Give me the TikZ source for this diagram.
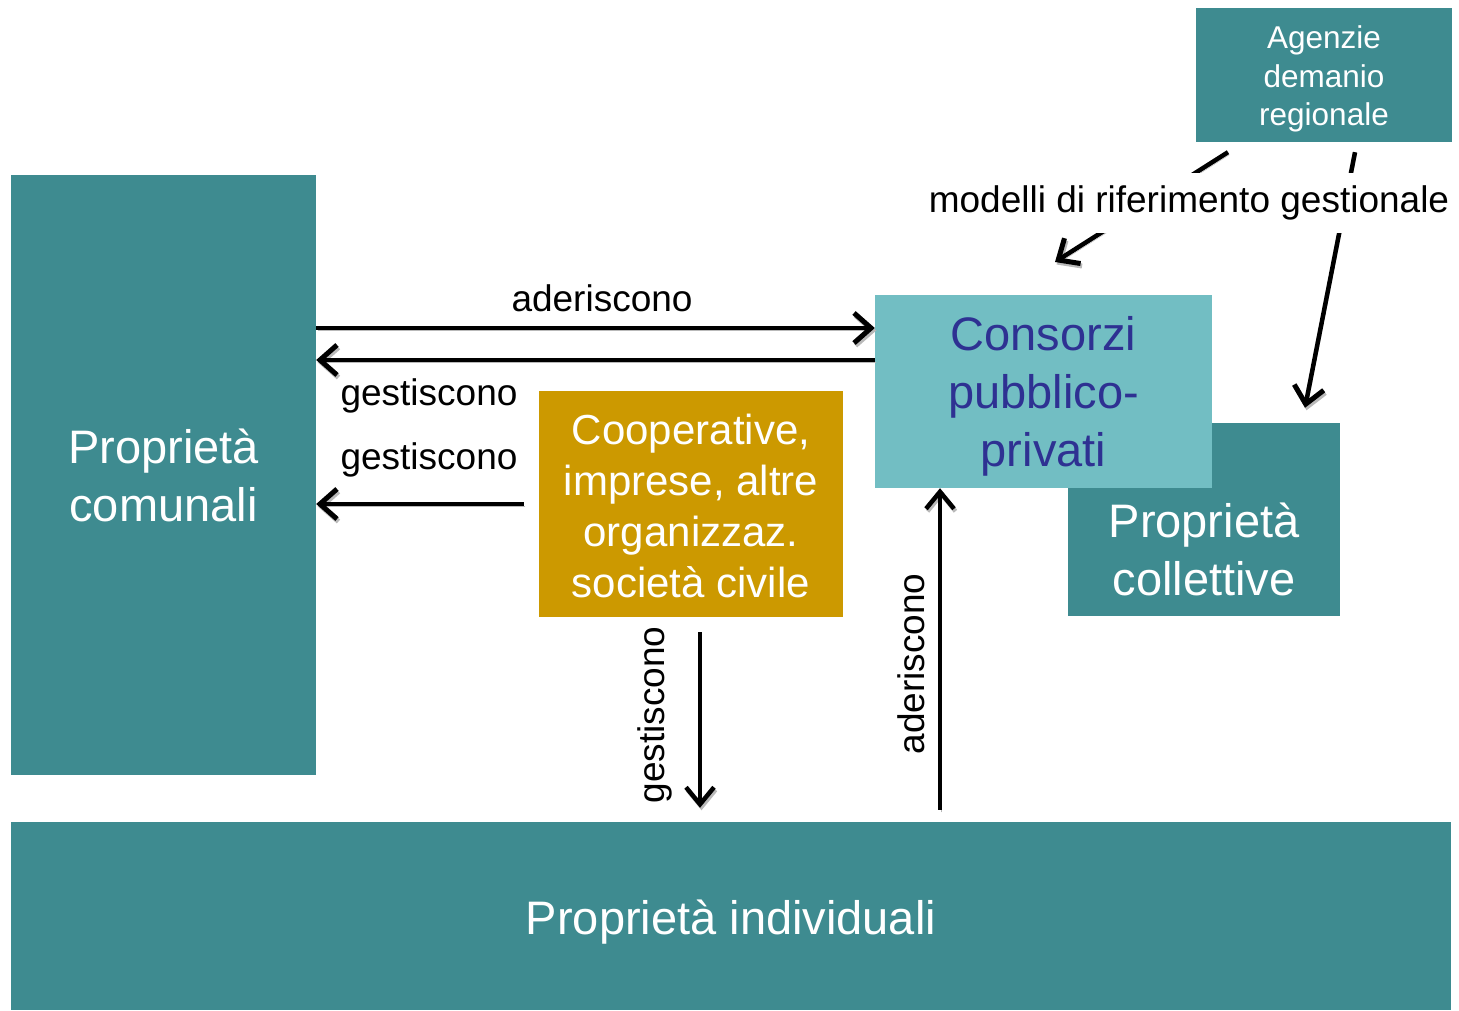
\documentclass[tikz,border=0pt]{standalone}
\usepackage{fontspec}
\setmainfont{Liberation Sans}
\usetikzlibrary{arrows.meta,calc}
\definecolor{teal1}{RGB}{62,139,144}
\definecolor{teal2}{RGB}{114,190,195}
\definecolor{gold1}{RGB}{204,153,0}
\definecolor{navy1}{RGB}{46,49,146}
\tikzset{
  box/.style={rectangle, draw=none, fill=teal1, inner sep=0pt},
  txt/.style={text=white, align=center, inner sep=0pt},
  big/.style={font=\fontsize{47}{58}\selectfont},
  lbl/.style={font=\fontsize{37}{44}\selectfont, text=black, inner sep=0pt},
  shad/.style={preaction={draw=gray!55, transform canvas={xshift=1.5pt,yshift=-2.5pt}}},
  arr/.style={shad, line width=4.5pt, -{Straight Barb[length=17pt,width=30pt,line width=5pt]}},
  varr/.style={shad, line width=4pt, -{Straight Barb[length=17pt,width=28pt,line width=4.5pt]}},
}
\begin{document}
\begin{tikzpicture}[x=1pt,y=-1pt]
\useasboundingbox (0,0) rectangle (1459,1011);
% boxes
\node[box, minimum width=256pt, minimum height=134pt] (agz) at (1324,75) {};
\node[txt, font=\fontsize{31.5}{38.5}\selectfont] (agzt) at ([yshift=-4pt]agz.center) {Agenzie\\demanio\\regionale};
\node[box, minimum width=305pt, minimum height=600pt] (com) at (163.5,475) {};
\node[txt, big] (comt) at (com.center) {Proprietà\\comunali};
\node[box, minimum width=272pt, minimum height=193pt] (coll) at (1204,519.5) {};
\node[txt, big] (collt) at (1204,549) {Proprietà\\collettive};
\node[box, fill=teal2, minimum width=337pt, minimum height=193pt] (cons) at (1043.5,391.5) {};
\node[txt, big, text=navy1] (const) at ([yshift=-5pt]cons.center) {Consorzi\\pubblico-\\privati};
\node[box, fill=gold1, minimum width=304pt, minimum height=226pt] (coop) at (691,504) {};
\node[txt, font=\fontsize{42}{51}\selectfont] (coopt) at ([yshift=-2pt]coop.center) {Cooperative,\\imprese, altre\\organizzaz.\\società civile};
\node[box, minimum width=1440pt, minimum height=188pt] (ind) at (731,916) {};
\node[txt, big] (indt) at ([yshift=-6pt]ind.center) {Proprietà individuali};
% helper coordinates
\coordinate (r1) at (0,328);
\coordinate (r2) at (0,360);
\coordinate (v1) at (700,0);
\coordinate (v2) at (940,0);
\coordinate (e1) at (1055,262);
% horizontal arrows
\draw[arr] (com.east |- r1) -- (cons.west |- r1);
\draw[arr] (cons.west |- r2) -- (com.east |- r2);
\draw[arr] ([xshift=-15pt]coop.west) -- (com.east |- coop.west);
% vertical arrows
\draw[varr, shorten <=15pt, shorten >=14pt] (v1 |- coop.south) -- (v1 |- ind.north);
\draw[varr, shorten <=12pt] (v2 |- ind.north) -- (v2 |- cons.south);
% arrows from Agenzie
\draw[arr] ([xshift=-96pt,yshift=-10pt]agz.south) -- (e1);
\draw[arr] ([xshift=31pt,yshift=-10pt]agz.south) -- ([xshift=101pt,yshift=15pt]coll.north);
% labels
\node[lbl, fill=white, inner xsep=2pt, inner ysep=13pt] (mod) at (1189,203) {modelli di riferimento gestionale};
\node[lbl] (l1) at (602,298) {aderiscono};
\node[lbl] (l2) at (429,396) {gestiscono};
\node[lbl] (l3) at (429,460) {gestiscono};
\node[lbl, rotate=90] (l4) at (655,715) {gestiscono};
\node[lbl, rotate=90] (l5) at (911,664) {aderiscono};
\end{tikzpicture}
\end{document}
